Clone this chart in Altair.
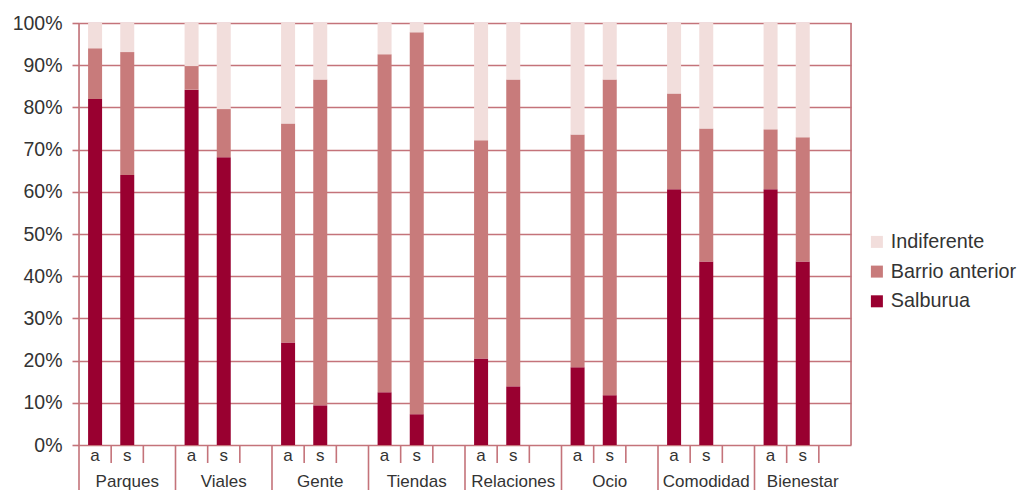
import altair as alt
import pandas as pd

groups = ["Parques", "Viales", "Gente", "Tiendas", "Relaciones", "Ocio", "Comodidad", "Bienestar"]
slots = ["a", "s"]
series = ["Salburua", "Barrio anterior", "Indiferente"]

# values per bar: order Parques a, Parques s, Viales a, ...
salburua = [82.0, 64.0, 84.2, 68.2, 24.3, 9.4, 12.5, 7.3, 20.5, 13.9, 18.4, 11.8, 60.6, 43.5, 60.6, 43.5]
barrio = [12.0, 29.1, 5.6, 11.4, 51.9, 77.2, 80.1, 90.5, 51.7, 72.7, 55.2, 74.8, 22.7, 31.5, 14.2, 29.4]
indiferente = [round(100 - s - b, 1) for s, b in zip(salburua, barrio)]

colors = ["#990030", "#c87b7b", "#f2dedc"]
line_color = "#c4737a"
text_color = "#333333"
font = "Liberation Sans"

rows = []
for gi, g in enumerate(groups):
    for si, s in enumerate(slots):
        k = gi * 2 + si
        pos = gi * 3 + si + 0.5
        start = 0.0
        for name, vals in zip(series, [salburua, barrio, indiferente]):
            v = vals[k]
            rows.append({"group": g, "slot": s, "pos": pos, "series": name,
                         "y0": start, "y1": start + v})
            start += v
bars_df = pd.DataFrame(rows)

nslots = len(groups) * 3
slot_labels = pd.DataFrame([{"pos": gi * 3 + si + 0.5, "label": s}
                            for gi in range(len(groups)) for si, s in enumerate(slots)])
group_labels = pd.DataFrame([{"pos": gi * 3 + 1.5, "label": g} for gi, g in enumerate(groups)])
long_sep = pd.DataFrame([{"x": gi * 3} for gi in range(1, len(groups))])
short_sep = pd.DataFrame([{"x": gi * 3 + k} for gi in range(len(groups)) for k in (1, 2)])
left_line = pd.DataFrame([{"x": 0}])
right_line = pd.DataFrame([{"x": nslots}])

xscale = alt.Scale(domain=[0, nslots], nice=False, zero=False, padding=0)
yscale = alt.Scale(domain=[0, 100], nice=False, padding=0)

bars = alt.Chart(bars_df).mark_bar(size=14).encode(
    x=alt.X("pos:Q", scale=xscale, axis=None),
    y=alt.Y("y0:Q", scale=yscale, title=None,
            axis=alt.Axis(values=list(range(0, 101, 10)), labelExpr="datum.value + '%'",
                          grid=True, gridColor=line_color, gridWidth=1.6, domain=False,
                          tickColor=line_color, tickSize=7, tickWidth=1.6,
                          labelPadding=10, labelFontSize=19.5, labelColor=text_color,
                          labelFont=font)),
    y2="y1:Q",
    color=alt.Color("series:N",
                    scale=alt.Scale(domain=series, range=colors),
                    legend=alt.Legend(title=None, orient="none", legendX=788, legendY=209,
                                      symbolType="square", symbolSize=144, symbolStrokeWidth=0,
                                      labelFontSize=19.8, labelFont=font, labelColor=text_color,
                                      rowPadding=8.7, labelOffset=4, padding=0, labelLimit=200,
                                      values=["Indiferente", "Barrio anterior", "Salburua"])),
)

right = alt.Chart(right_line).mark_rule(color=line_color, strokeWidth=1.6).encode(
    x=alt.X("x:Q", scale=xscale), y=alt.value(0), y2=alt.value(422))
left = alt.Chart(left_line).mark_rule(color=line_color, strokeWidth=1.6).encode(
    x=alt.X("x:Q", scale=xscale), y=alt.value(0), y2=alt.value(500))
longs = alt.Chart(long_sep).mark_rule(color=line_color, strokeWidth=1.6).encode(
    x=alt.X("x:Q", scale=xscale), y=alt.value(422), y2=alt.value(500))
shorts = alt.Chart(short_sep).mark_rule(color=line_color, strokeWidth=1.6).encode(
    x=alt.X("x:Q", scale=xscale), y=alt.value(422), y2=alt.value(440))

slot_text = alt.Chart(slot_labels).mark_text(fontSize=17, font=font, color=text_color,
                                             baseline="middle").encode(
    x=alt.X("pos:Q", scale=xscale), y=alt.value(433), text="label:N")
group_text = alt.Chart(group_labels).mark_text(fontSize=17, font=font, color=text_color,
                                               baseline="middle").encode(
    x=alt.X("pos:Q", scale=xscale), y=alt.value(459), text="label:N")

chart = alt.layer(bars, right, left, longs, shorts, slot_text, group_text).properties(
    width=772, height=422,
    autosize=alt.AutoSizeParams(type="none"),
    padding={"left": 71, "top": 15, "right": 167, "bottom": 45},
).configure_view(stroke=None).configure(background="white")

chart.save("out.html", embed_options={"renderer": "svg", "actions": False})
